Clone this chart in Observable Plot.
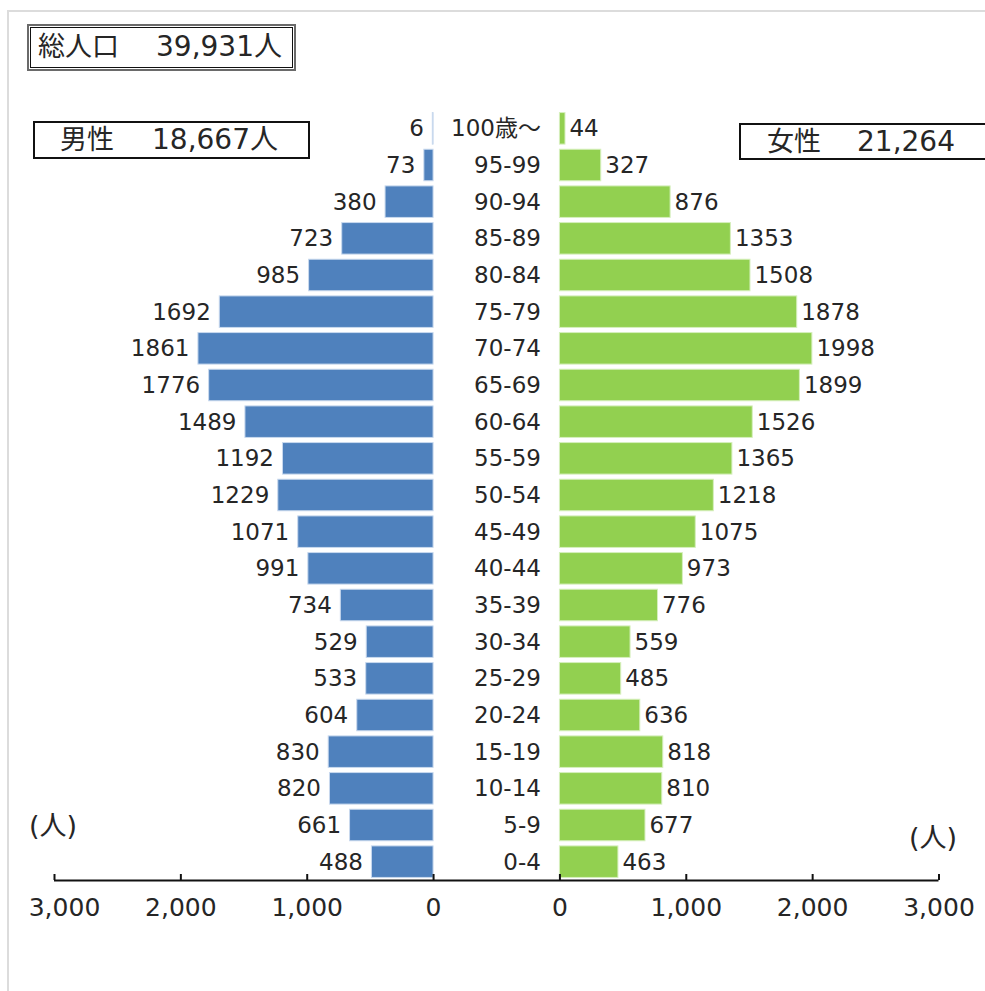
<!DOCTYPE html>
<html>
<head>
<meta charset="utf-8">
<script src="https://cdn.jsdelivr.net/npm/d3@7"></script>
<script src="https://cdn.jsdelivr.net/npm/@observablehq/plot@0.6"></script>
<style>
  html, body { margin: 0; padding: 0; background: #fff; }
  #wrap { position: relative; width: 985px; height: 991px; overflow: hidden;
          font-family: "DejaVu Sans", "Noto Sans CJK JP", sans-serif; color: #262626; }
  #frame { position: absolute; left: 7px; top: 10px; width: 1000px; height: 1000px;
           border-top: 2px solid #dcdcdc; border-left: 2px solid #dcdcdc; }
  #chart { position: absolute; left: 0; top: 0; }
  .box { position: absolute; box-sizing: border-box; }
  .t { position: absolute; white-space: nowrap; line-height: 1; }
</style>
</head>
<body>
<div id="wrap">
  <div id="frame"></div>
  <div id="chart"></div>
  <div class="box" style="left:27px;top:24px;width:269px;height:47px;border:2px solid #6a6a6a;">
    <div class="box" style="left:1px;top:1px;right:1px;bottom:1px;border:1.5px solid #111;"></div>
  </div>
  <div class="t" id="totLabel" style="left:38px;top:33px;font-size:27px;"></div>
  <div class="t" id="totValue" style="left:156px;top:33px;font-size:28px;"></div>

  <div class="box" style="left:33px;top:121px;width:277px;height:38px;border:2px solid #111;"></div>
  <div class="t" id="mLabel" style="left:60px;top:126px;font-size:27px;"></div>
  <div class="t" id="mValue" style="left:152px;top:126px;font-size:28px;"></div>

  <div class="box" style="left:739px;top:123px;width:270px;height:37px;border:2px solid #111;"></div>
  <div class="t" id="fLabel" style="left:767px;top:128px;font-size:27px;"></div>
  <div class="t" id="fValue" style="left:857px;top:128px;font-size:28px;"></div>

  <div class="t" id="unitL" style="left:29px;top:812px;font-size:27px;"></div>
  <div class="t" id="unitR" style="left:909px;top:824px;font-size:27px;"></div>
</div>
<script>
// ---- data ----
const ages = ["0-4","5-9","10-14","15-19","20-24","25-29","30-34","35-39","40-44","45-49",
              "50-54","55-59","60-64","65-69","70-74","75-79","80-84","85-89","90-94","95-99","100歳～"];
const male   = [488,661,820,830,604,533,529,734,991,1071,1229,1192,1489,1776,1861,1692,985,723,380,73,6];
const female = [463,677,810,818,636,485,559,776,973,1075,1218,1365,1526,1899,1998,1878,1508,1353,876,327,44];
const tickValues = [3000,2000,1000,0];
const tickLabels = ["3,000","2,000","1,000","0"];
const totalLabel = "総人口", totalValue = "39,931人";
const maleLabel = "男性", maleValue = "18,667人";
const femaleLabel = "女性", femaleValue = "21,264";
const unitText = "(人)";

// ---- build ----
const GAP = 500; // half of the central gap, in data units
const rows = ages.map((a, i) => ({age: a, i, male: male[i], female: female[i]}));
const ticks = [
  ...tickValues.map((v, k) => ({x: -(v + GAP), label: tickLabels[k], edge: v === 3000})),
  ...tickValues.map((v, k) => ({x: v + GAP, label: tickLabels[k], edge: false}))
];
const half = 0.43;
const rowPx = 770 / 21;

const blue = "#4F81BD", green = "#92D050";
const ink = "#262626";

const chart = Plot.plot({
  width: 985, height: 991,
  marginLeft: 54, marginRight: 46.5, marginTop: 110, marginBottom: 111,
  x: {domain: [-3500, 3500], axis: null},
  y: {domain: [-0.5, 20.5], axis: null},
  style: {fontFamily: '"DejaVu Sans", "Noto Sans CJK JP", sans-serif', fontSize: "23px", color: ink, background: "transparent"},
  marks: [
    Plot.rect(rows, {x1: -GAP, x2: d => -(d.male + GAP), y1: d => d.i - half, y2: d => d.i + half,
      fill: blue, stroke: "#c9d9ee", strokeWidth: 1}),
    Plot.rect(rows, {x1: GAP, x2: d => d.female + GAP, y1: d => d.i - half, y2: d => d.i + half,
      fill: green, stroke: "#d6efbd", strokeWidth: 1}),
    Plot.text(rows, {x: d => -(d.male + GAP), y: "i", text: d => String(d.male), textAnchor: "end", dx: -9, fill: ink}),
    Plot.text(rows, {x: d => d.female + GAP, y: "i", text: d => String(d.female), textAnchor: "start", dx: 4, fill: ink}),
    Plot.text(rows, {x: GAP, y: "i", text: "age", textAnchor: "end", dx: -19, fill: ink}),
    Plot.ruleY([-0.5], {x1: -3500, x2: 3500, stroke: "#111", strokeWidth: 2.2}),
    Plot.ruleX(ticks, {x: "x", y1: -0.5, y2: -0.5 + 6 / rowPx, stroke: "#111", strokeWidth: 2}),
    Plot.text(ticks.filter(d => !d.edge), {x: "x", y: () => -0.5, dy: 27, text: "label", fontSize: 25, fill: ink}),
    Plot.text(ticks.filter(d => d.edge), {x: "x", y: () => -0.5, dy: 27, dx: 10, text: "label", fontSize: 25, fill: ink})
  ]
});
document.getElementById("chart").appendChild(chart);

document.getElementById("totLabel").textContent = totalLabel;
document.getElementById("totValue").textContent = totalValue;
document.getElementById("mLabel").textContent = maleLabel;
document.getElementById("mValue").textContent = maleValue;
document.getElementById("fLabel").textContent = femaleLabel;
document.getElementById("fValue").textContent = femaleValue;
document.getElementById("unitL").textContent = unitText;
document.getElementById("unitR").textContent = unitText;
</script>
</body>
</html>
